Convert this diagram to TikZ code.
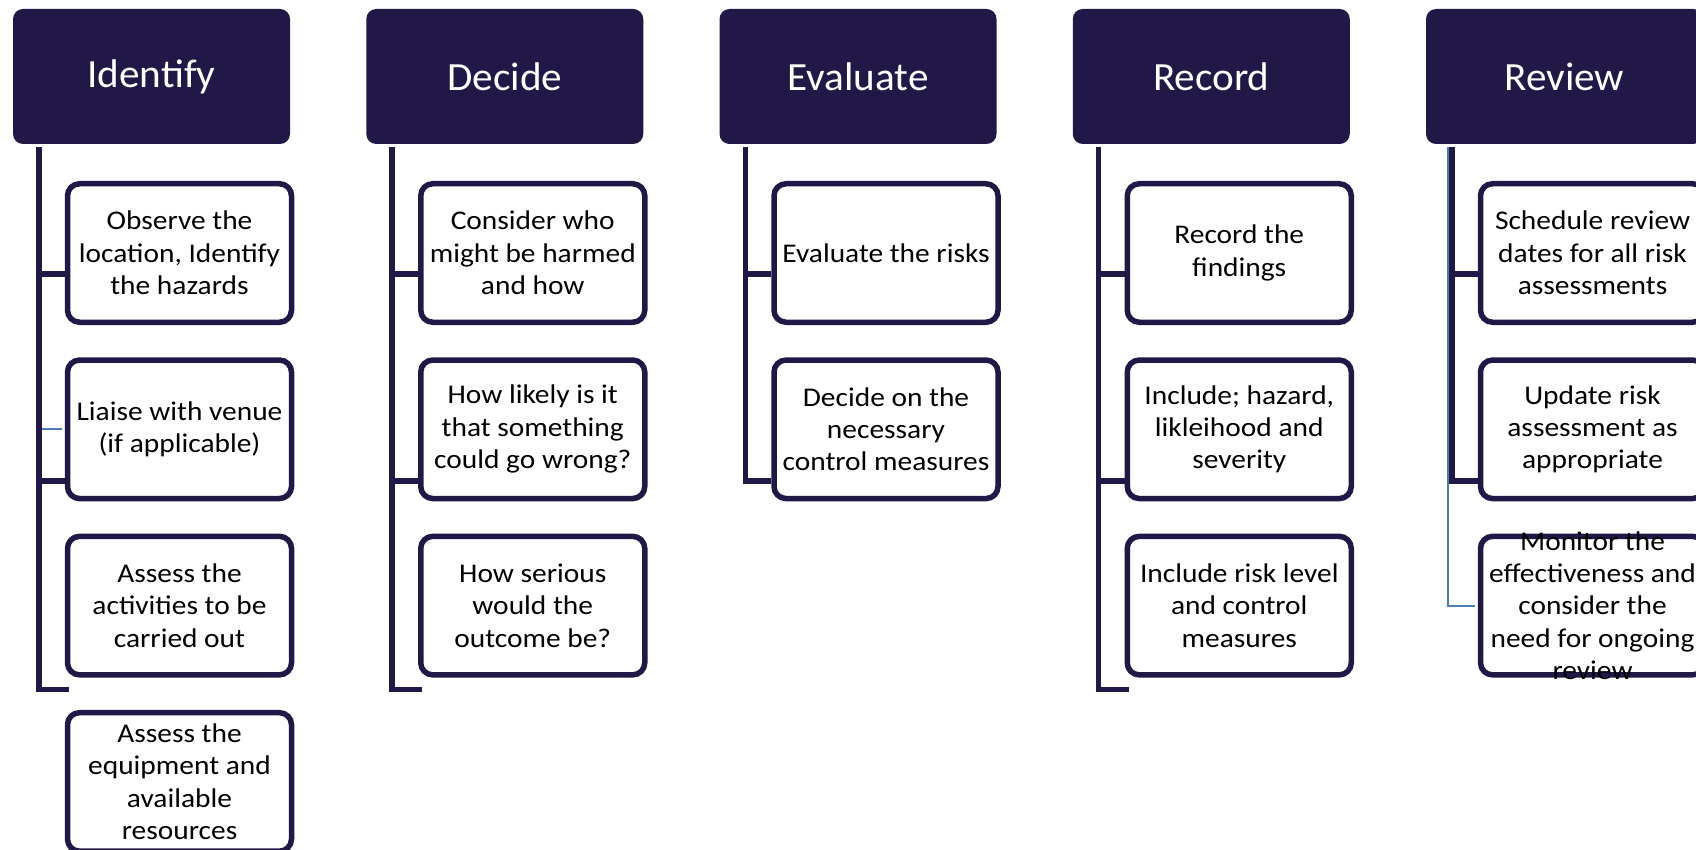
\documentclass[tikz,border=0pt]{standalone}
\usepackage{fontspec}
\setmainfont{Carlito}
\newfontfamily\headfont{Carlito}[FakeStretch=1.03]
\newfontfamily\bodyfont{Carlito}[FakeStretch=1.09]
\definecolor{navy}{RGB}{34,24,72}
\definecolor{link}{HTML}{4A7EBB}
\newcommand{\tasktext}[1]{\parbox[c][138.5pt][c]{224pt}{\centering #1}}

\begin{document}
\begin{tikzpicture}[x=1pt,y=-1pt,
  head/.style={fill=navy, rounded corners=10pt, minimum width=277pt, minimum height=135pt, inner sep=0pt, text=white, font=\headfont\fontsize{40}{48}\selectfont},
  task/.style={draw=navy, line width=5.5pt, rounded corners=12pt, fill=white, inner sep=0pt, font=\bodyfont\fontsize{27}{32.4}\selectfont},
  trunk/.style={navy, line width=5.5pt},
  thin/.style={link, line width=2pt}]
\useasboundingbox (0,0) rectangle (1696,850);
\clip (0,0) rectangle (1696,850);
\def\dx{353.25}
\def\ra{253}
\def\rb{429.3}
\def\rc{605.6}
\def\rd{781.9}
% headers
\foreach \n/\t [count=\i from 0] in {id/Identify,de/Decide,ev/Evaluate,re/Record,rv/Review}{
  \node[head] (\n) at ({151.5+\i*\dx},76.5) {\t};
  \coordinate (\n-t) at ([xshift=26pt,yshift=-3pt]\n.south west);}
% Identify
\node[task] (id1) at (179.5,\ra) {\tasktext{Observe the\\location, Identify\\the hazards}};
\node[task] (id2) at (179.5,\rb) {\tasktext{Liaise with venue\\(if applicable)}};
\node[task] (id3) at (179.5,\rc) {\tasktext{Assess the\\activities to be\\carried out}};
\node[task] (id4) at (179.5,\rd) {\tasktext{Assess the\\equipment and\\available\\resources}};
% Decide
\node[task] (de1) at ({179.5+\dx},\ra) {\tasktext{Consider who\\might be harmed\\and how}};
\node[task] (de2) at ({179.5+\dx},\rb) {\tasktext{How likely is it\\that something\\could go wrong?}};
\node[task] (de3) at ({179.5+\dx},\rc) {\tasktext{How serious\\would the\\outcome be?}};
% Evaluate
\node[task] (ev1) at ({179.5+2*\dx},\ra) {\tasktext{Evaluate the risks}};
\node[task] (ev2) at ({179.5+2*\dx},\rb) {\tasktext{Decide on the\\necessary\\control measures}};
% Record
\node[task] (re1) at ({179.5+3*\dx},\ra) {\tasktext{Record the\\findings}};
\node[task] (re2) at ({179.5+3*\dx},\rb) {\tasktext{Include; hazard,\\likleihood and\\severity}};
\node[task] (re3) at ({179.5+3*\dx},\rc) {\tasktext{Include risk level\\and control\\measures}};
% Review
\node[task] (rv1) at ({179.5+4*\dx},\ra) {\tasktext{Schedule review\\dates for all risk\\assessments}};
\node[task] (rv2) at ({179.5+4*\dx},\rb) {\tasktext{Update risk\\assessment as\\appropriate}};
\node[task] (rv3) at ({179.5+4*\dx},\rc) {\tasktext{Monitor the\\effectiveness and\\consider the\\need for ongoing\\review}};
% connectors
\draw[thin] (id-t) |- ([xshift=-3pt]id2.west);
\draw[thin] ([xshift=-4pt]rv-t) |- ([xshift=-3pt]rv3.west);
\foreach \n in {id,de,ev,re,rv}{
  \draw[trunk] (\n-t) |- ([yshift=-21pt]\n1.west);
  \draw[trunk] (\n-t) |- ([yshift=-51.5pt]\n2.west);}
\foreach \n in {id,de,re}
  \draw[trunk] (\n-t) |- ([xshift=4pt,yshift=-12pt]\n3.south west);
\end{tikzpicture}
\end{document}
